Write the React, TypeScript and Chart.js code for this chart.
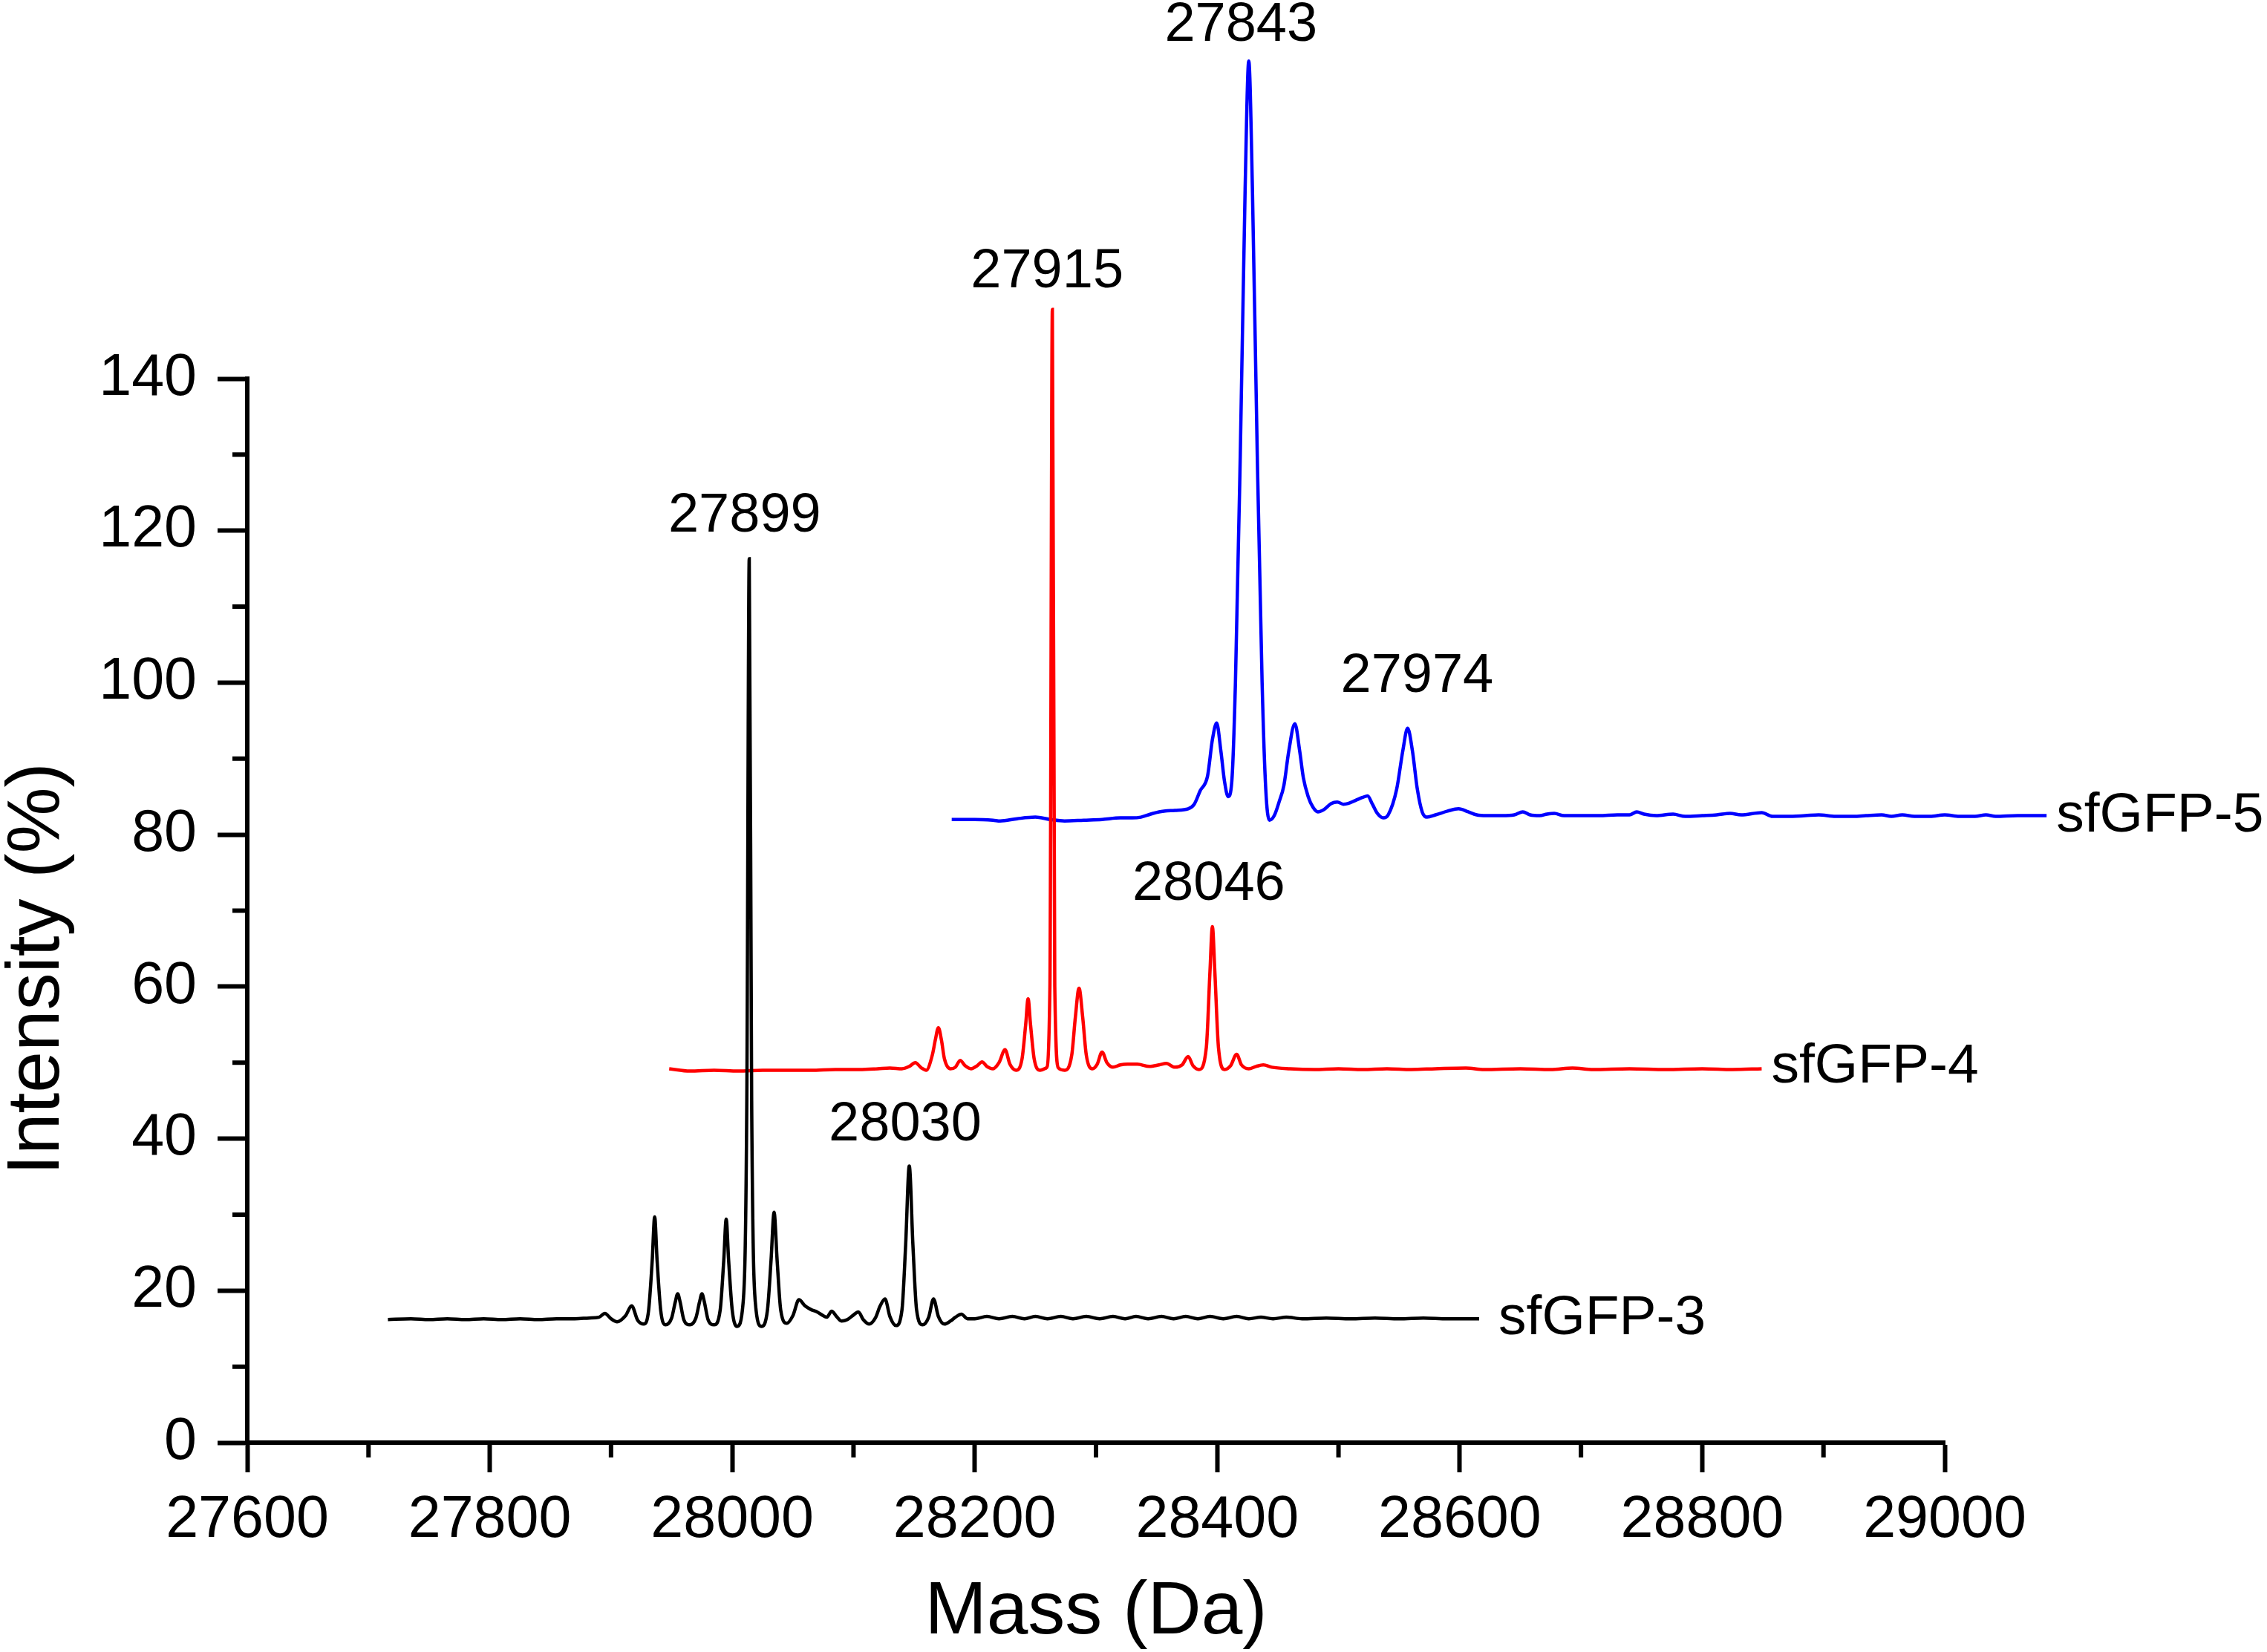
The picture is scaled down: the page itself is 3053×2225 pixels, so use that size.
import React, { useEffect, useRef } from 'react';
import { Chart, registerables } from 'chart.js';

Chart.register(...registerables);

const FONT = '"Liberation Sans", Arial, Helvetica, sans-serif';

// sfGFP-3 (black trace)
const sfgfp3Mass = [
  27716, 27735, 27750, 27765, 27780, 27795, 27810, 27825, 27840, 27855, 27870, 27882, 27890, 27895,
  27900, 27905, 27912, 27917, 27922, 27927, 27931, 27934, 27936, 27938, 27941, 27945, 27950, 27953,
  27955, 27957, 27960, 27965, 27970, 27973, 27975, 27977, 27980, 27985, 27990, 27993, 27995, 27997,
  28000, 28004, 28009, 28012, 28014, 28016, 28019, 28024, 28029, 28032, 28034.5, 28037, 28040, 28045,
  28050, 28055, 28060, 28065, 28070, 28074, 28078, 28082, 28086, 28090, 28095, 28100, 28104, 28108,
  28113, 28118, 28122, 28126, 28130, 28135, 28140, 28143, 28146, 28149, 28152, 28157, 28162, 28166,
  28170, 28175, 28180, 28184, 28189, 28194, 28200, 28210, 28220, 28231, 28241, 28250, 28260, 28271,
  28281, 28292, 28303, 28314, 28324, 28333, 28343, 28354, 28364, 28374, 28384, 28394, 28405, 28416,
  28426, 28436, 28446, 28457, 28470, 28490, 28510, 28530, 28550, 28570, 28590, 28616,
];
const sfgfp3Intensity = [
  16.2, 16.3, 16.2, 16.3, 16.2, 16.3, 16.2, 16.3, 16.2, 16.3, 16.3, 16.4, 16.5, 17.0,
  16.3, 15.9, 16.7, 18.0, 16.1, 15.6, 17.4, 24, 29.7, 24, 17.4, 15.5, 16.4, 18.5,
  19.6, 18.5, 16.2, 15.5, 16.4, 18.5, 19.6, 18.5, 16.2, 15.5, 17.4, 24, 29.4, 24,
  17.4, 15.3, 18.5, 45, 116.3, 45, 18.5, 15.3, 17.4, 24, 30.3, 24, 17.4, 15.7,
  16.7, 18.8, 18.0, 17.5, 17.2, 16.8, 16.5, 17.3, 16.6, 16.0, 16.2, 16.8, 17.2, 16.2,
  15.6, 16.4, 18.0, 18.9, 16.6, 15.4, 17.5, 26, 36.4, 26, 17.5, 15.5, 16.5, 18.9,
  16.6, 15.6, 16.0, 16.5, 16.9, 16.3, 16.3, 16.6, 16.3, 16.6, 16.3, 16.6, 16.3, 16.6,
  16.3, 16.6, 16.3, 16.6, 16.3, 16.6, 16.3, 16.6, 16.3, 16.6, 16.3, 16.6, 16.3, 16.6,
  16.3, 16.5, 16.3, 16.5, 16.3, 16.4, 16.3, 16.4, 16.3, 16.4, 16.3, 16.3,
];

// sfGFP-4 (red trace)
const sfgfp4Mass = [
  27948, 27965, 27985, 28005, 28025, 28045, 28065, 28085, 28105, 28120, 28130, 28140, 28146, 28151,
  28156, 28160, 28165, 28167.5, 28170, 28172.5, 28175, 28180, 28184, 28188, 28192, 28197, 28202, 28206,
  28210, 28215, 28220, 28225, 28229, 28234, 28239, 28242, 28244, 28246, 28249, 28254, 28259, 28262,
  28264, 28266, 28269, 28274, 28280, 28283, 28286, 28289, 28292, 28297, 28301, 28305, 28309, 28314,
  28320, 28326, 28334, 28344, 28352, 28358, 28365, 28371, 28376, 28380, 28385, 28391, 28394, 28396,
  28398, 28401, 28406, 28411, 28416, 28420, 28426, 28432, 28438, 28445, 28460, 28480, 28500, 28520,
  28540, 28560, 28580, 28605, 28620, 28650, 28675, 28693, 28710, 28740, 28770, 28800, 28825, 28849,
];
const sfgfp4Intensity = [
  49.2, 48.9, 49.0, 48.9, 49.0, 49.0, 49.0, 49.1, 49.1, 49.2, 49.3, 49.2, 49.5, 50.0,
  49.3, 49.0, 51, 53, 54.6, 53, 50.5, 49.2, 49.4, 50.3, 49.6, 49.2, 49.6, 50.1,
  49.5, 49.2, 50.0, 51.7, 49.8, 49.0, 50.5, 55, 58.4, 55, 50.5, 49.0, 49.3, 60,
  149.1, 60, 49.3, 49.0, 51, 56, 59.8, 56, 51, 49.2, 49.8, 51.4, 50.0, 49.4,
  49.7, 49.8, 49.8, 49.5, 49.7, 49.9, 49.4, 49.7, 50.8, 49.6, 49.1, 52, 62, 67.9,
  62, 52, 49.1, 49.6, 51.1, 49.7, 49.2, 49.5, 49.7, 49.4, 49.2, 49.1, 49.2, 49.1,
  49.2, 49.1, 49.2, 49.3, 49.1, 49.2, 49.1, 49.3, 49.1, 49.2, 49.1, 49.2, 49.1, 49.2,
];

// sfGFP-5 (blue trace)
const sfgfp5Mass = [
  28181, 28200, 28215, 28221, 28235, 28250, 28262, 28274, 28290, 28305, 28320, 28330, 28337, 28345,
  28352, 28365, 28376, 28381, 28386, 28392, 28396, 28399.5, 28403, 28406, 28409, 28412, 28415, 28419,
  28423, 28426, 28429, 28433, 28437, 28440, 28443, 28447, 28451, 28455, 28459, 28464, 28468, 28471,
  28475, 28479, 28483, 28488, 28494, 28499, 28504, 28508, 28514, 28520, 28524, 28528, 28532, 28537,
  28541, 28548, 28553, 28557, 28561, 28565, 28569, 28573, 28580, 28590, 28599, 28607, 28614, 28622,
  28635, 28645, 28652, 28658, 28666, 28672, 28678, 28686, 28700, 28715, 28730, 28740, 28746, 28752,
  28762, 28776, 28786, 28800, 28812, 28823, 28832, 28849, 28858, 28870, 28885, 28896, 28910, 28925,
  28935, 28948, 28956, 28965, 28975, 28988, 29000, 29012, 29025, 29034, 29042, 29060, 29084,
];
const sfgfp5Intensity = [
  82.0, 82.0, 81.9, 81.8, 82.1, 82.3, 82.0, 81.8, 81.9, 82.0, 82.2, 82.2, 82.3, 82.7,
  83.0, 83.2, 83.4, 84.0, 85.8, 87.7, 92.5, 94.7, 91, 87, 85.0, 87, 100, 130,
  165, 181.8, 165, 130, 100, 86, 81.9, 82.5, 84.3, 86.5, 91, 94.6, 91, 87.5,
  85, 83.6, 83.0, 83.3, 84.1, 84.3, 84.0, 84.1, 84.5, 84.9, 85.1, 84.0, 82.8, 82.2,
  82.6, 86, 91, 94.0, 91, 86, 83, 82.3, 82.6, 83.1, 83.4, 83.0, 82.6, 82.5,
  82.5, 82.6, 83.0, 82.6, 82.5, 82.7, 82.8, 82.5, 82.5, 82.5, 82.6, 82.6, 83.0, 82.7,
  82.5, 82.7, 82.4, 82.5, 82.6, 82.8, 82.6, 82.9, 82.4, 82.4, 82.5, 82.6, 82.4, 82.4,
  82.5, 82.6, 82.4, 82.6, 82.4, 82.4, 82.6, 82.4, 82.4, 82.6, 82.4, 82.5, 82.5,
];

// peak annotations (anchor = text centre, in data units)
const peakLabels = ['27843', '27915', '27899', '27974', '28046', '28030'];
const peakLabelMass = [28419.6, 28259.7, 28010.2, 28564.8, 28393, 28142.6];
const peakLabelIntensity = [186.4, 154.0, 121.9, 100.8, 73.4, 41.8];

// trace names (anchor = left edge, vertical centre)
const traceNames = ['sfGFP-3', 'sfGFP-4', 'sfGFP-5'];
const traceNameMass = [28632, 28857, 29092];
const traceNameIntensity = [16.3, 49.4, 82.4];

const massTicks = [27600, 27800, 28000, 28200, 28400, 28600, 28800, 29000];
const massMinorTicks = [27700, 27900, 28100, 28300, 28500, 28700, 28900];
const intensityTicks = [0, 20, 40, 60, 80, 100, 120, 140];
const intensityMinorTicks = [10, 30, 50, 70, 90, 110, 130];

const toPoints = (xs: number[], ys: number[]) => xs.map((x, i) => ({ x, y: ys[i] }));

const textPlugin = {
  id: 'spectrumText',
  afterDraw(chart: any) {
    const { ctx, chartArea: area } = chart;
    const x = chart.scales.x;
    const y = chart.scales.y;
    ctx.save();

    // minor ticks
    ctx.strokeStyle = '#000';
    ctx.lineWidth = 6;
    ctx.lineCap = 'butt';
    ctx.beginPath();
    massMinorTicks.forEach((v) => {
      const px = x.getPixelForValue(v);
      ctx.moveTo(px, area.bottom);
      ctx.lineTo(px, area.bottom + 20);
    });
    intensityMinorTicks.forEach((v) => {
      const py = y.getPixelForValue(v);
      ctx.moveTo(area.left, py);
      ctx.lineTo(area.left - 20, py);
    });
    ctx.stroke();

    ctx.fillStyle = '#000';
    ctx.textBaseline = 'middle';

    ctx.font = `74px ${FONT}`;
    ctx.textAlign = 'center';
    peakLabels.forEach((t, i) => {
      ctx.fillText(t, x.getPixelForValue(peakLabelMass[i]), y.getPixelForValue(peakLabelIntensity[i]));
    });

    ctx.font = `75px ${FONT}`;
    ctx.textAlign = 'left';
    traceNames.forEach((t, i) => {
      ctx.fillText(t, x.getPixelForValue(traceNameMass[i]), y.getPixelForValue(traceNameIntensity[i]));
    });

    // axis titles
    ctx.font = `100px ${FONT}`;
    ctx.textAlign = 'center';
    ctx.textBaseline = 'alphabetic';
    ctx.fillText('Mass (Da)', (area.left + area.right) / 2, area.bottom + 257);

    ctx.translate(area.left - 254, area.top + 795);
    ctx.rotate(-Math.PI / 2);
    ctx.fillText('Intensity (%)', 0, 0);

    ctx.restore();
  },
};

const SpectrumChart: React.FC = () => {
  const canvasRef = useRef<HTMLCanvasElement>(null);
  const chartRef = useRef<Chart | null>(null);

  useEffect(() => {
    if (chartRef.current) chartRef.current.destroy();
    const ctx = canvasRef.current!.getContext('2d')!;

    const line = (label: string, data: any, color: string, order: number) => ({
      label,
      data,
      borderColor: color,
      borderWidth: 4.5,
      pointRadius: 0,
      fill: false,
      cubicInterpolationMode: 'monotone' as const,
      clip: false as const,
      order,
    });

    chartRef.current = new Chart(ctx, {
      type: 'line',
      data: {
        datasets: [
          line('sfGFP-3', toPoints(sfgfp3Mass, sfgfp3Intensity), '#000000', 1),
          line('sfGFP-4', toPoints(sfgfp4Mass, sfgfp4Intensity), '#ff0000', 2),
          line('sfGFP-5', toPoints(sfgfp5Mass, sfgfp5Intensity), '#0000ff', 3),
        ],
      },
      options: {
        animation: false,
        responsive: true,
        maintainAspectRatio: false,
        devicePixelRatio: 1,
        layout: { padding: { top: 510, right: 434, bottom: 0, left: 0 } },
        plugins: {
          legend: { display: false },
          tooltip: { enabled: false },
        },
        scales: {
          x: {
            type: 'linear',
            afterDataLimits: (scale: any) => {
              scale.min = massTicks[0];
              scale.max = massTicks[massTicks.length - 1];
            },
            afterBuildTicks: (scale: any) => {
              scale.ticks = massTicks.map((value) => ({ value }));
            },
            afterFit: (scale: any) => {
              scale.height = 282;
            },
            ticks: {
              stepSize: 200,
              autoSkip: false,
              maxRotation: 0,
              padding: 18,
              color: '#000',
              font: { family: FONT, size: 79 },
              callback: (v: any) => String(v),
            },
            grid: {
              drawOnChartArea: false,
              drawTicks: true,
              tickLength: 40,
              tickWidth: 6,
              tickColor: '#000',
            },
            border: { display: true, width: 6, color: '#000' },
          },
          y: {
            type: 'linear',
            min: 0,
            max: 140,
            afterBuildTicks: (scale: any) => {
              scale.ticks = intensityTicks.map((value) => ({ value }));
            },
            afterFit: (scale: any) => {
              scale.width = 333;
            },
            ticks: {
              stepSize: 20,
              autoSkip: false,
              padding: 28,
              color: '#000',
              font: { family: FONT, size: 79 },
            },
            grid: {
              drawOnChartArea: false,
              drawTicks: true,
              tickLength: 40,
              tickWidth: 6,
              tickColor: '#000',
            },
            border: { display: true, width: 6, color: '#000' },
          },
        },
      },
      plugins: [textPlugin],
    });

    return () => {
      if (chartRef.current) {
        chartRef.current.destroy();
        chartRef.current = null;
      }
    };
  }, []);

  return (
    <div style={{ position: 'fixed', left: 0, top: 0, width: 3053, height: 2225, background: '#fff' }}>
      <canvas ref={canvasRef} />
    </div>
  );
};

export default function App() {
  return <SpectrumChart />;
}
